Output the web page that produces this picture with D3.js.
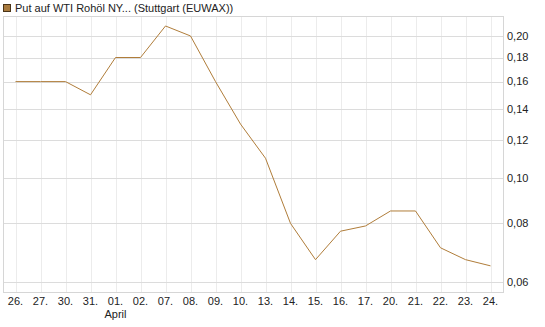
<!DOCTYPE html>
<html>
<head>
<meta charset="utf-8">
<script src="https://cdn.jsdelivr.net/npm/d3@7"></script>
<style>
  body { margin: 0; background: #fff; }
  svg { font-family: "Liberation Sans", Arial, sans-serif; }
</style>
</head>
<body>
<svg id="chart"></svg>
<script>
// data
const dates = ['26.', '27.', '30.', '31.', '01.', '02.', '07.', '08.', '09.', '10.',
    '13.', '14.', '15.', '16.', '17.', '20.', '21.', '22.', '23.', '24.'];
const prices = [0.16, 0.16, 0.16, 0.15, 0.18, 0.18, 0.21, 0.20, 0.16, 0.13,
    0.11, 0.08, 0.067, 0.077, 0.079, 0.085, 0.085, 0.071, 0.067, 0.065];
const yTicks = [0.06, 0.08, 0.10, 0.12, 0.14, 0.16, 0.18, 0.20];
const monthLabels = [{ date: '01.', label: 'April' }];
const title = 'Put auf WTI Rohöl NY... (Stuttgart (EUWAX))';

const width = 545, height = 327;
const plot = { left: 3, right: 503, top: 16, bottom: 292 };

const svg = d3.select('#chart')
    .attr('width', width)
    .attr('height', height);

const x = d3.scalePoint()
    .domain(dates)
    .range([15.5, 490.5]);

const y = d3.scaleLog()
    .domain([0.0572, 0.2205])
    .range([plot.bottom, plot.top]);

// gridlines
svg.append('g')
    .selectAll('line')
    .data(dates)
    .join('line')
    .attr('x1', d => Math.round(x(d)) + 0.5)
    .attr('x2', d => Math.round(x(d)) + 0.5)
    .attr('y1', plot.top)
    .attr('y2', plot.bottom)
    .attr('stroke', '#ececec');

svg.append('g')
    .selectAll('line')
    .data(yTicks)
    .join('line')
    .attr('x1', plot.left)
    .attr('x2', plot.right)
    .attr('y1', d => Math.round(y(d)) + 0.5)
    .attr('y2', d => Math.round(y(d)) + 0.5)
    .attr('stroke', '#dcdcdc');

// frame
svg.append('rect')
    .attr('x', plot.left + 0.5)
    .attr('y', plot.top + 0.5)
    .attr('width', plot.right - plot.left)
    .attr('height', plot.bottom - plot.top)
    .attr('fill', 'none')
    .attr('stroke', '#d6d6d6');

// y axis labels on the right
const fmt = d => d3.format('.2f')(d).replace('.', ',');
svg.append('g')
    .selectAll('text')
    .data(yTicks)
    .join('text')
    .attr('x', 507)
    .attr('y', d => y(d))
    .attr('dy', '0.35em')
    .attr('font-size', 11)
    .attr('fill', '#222')
    .text(fmt);

// x axis labels
svg.append('g')
    .selectAll('text')
    .data(dates)
    .join('text')
    .attr('x', d => x(d))
    .attr('y', 305)
    .attr('text-anchor', 'middle')
    .attr('font-size', 11)
    .attr('fill', '#222')
    .text(d => d);

svg.append('g')
    .selectAll('text')
    .data(monthLabels)
    .join('text')
    .attr('x', d => x(d.date))
    .attr('y', 318)
    .attr('text-anchor', 'middle')
    .attr('font-size', 11)
    .attr('fill', '#222')
    .text(d => d.label);

// price line
const line = d3.line()
    .x((d, i) => x(dates[i]))
    .y(d => y(d));

svg.append('path')
    .datum(prices)
    .attr('d', line)
    .attr('fill', 'none')
    .attr('stroke', '#b07d3a')
    .attr('stroke-width', 1);

// legend
svg.append('rect')
    .attr('x', 3.5)
    .attr('y', 4.5)
    .attr('width', 7)
    .attr('height', 7)
    .attr('fill', '#a87a3e')
    .attr('stroke', '#4a3418');

svg.append('text')
    .attr('x', 15)
    .attr('y', 12)
    .attr('font-size', 11)
    .attr('fill', '#222')
    .text(title);
</script>
</body>
</html>
